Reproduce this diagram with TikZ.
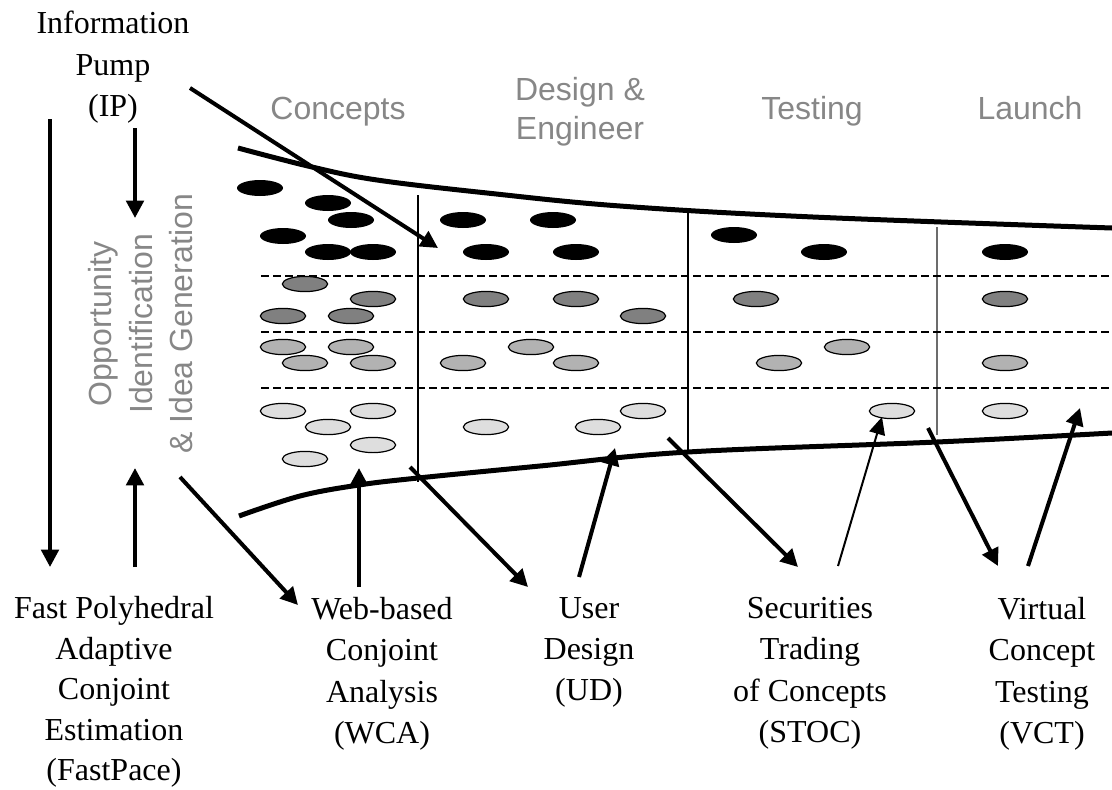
\documentclass[tikz,border=0pt]{standalone}
\usepackage{fontspec}
\setmainfont{Liberation Serif}
\setsansfont{Liberation Sans}
\usetikzlibrary{arrows.meta}
\definecolor{labelgray}{gray}{0.53}
\definecolor{beandark}{gray}{0.5}
\definecolor{beanmid}{gray}{0.7}
\definecolor{beanlight}{gray}{0.87}

\begin{document}
\begin{tikzpicture}[x=0.75pt,y=-0.75pt,
		arr/.style={-{Triangle[length=13pt,width=13pt]}, line width=3pt},
		thinarr/.style={-{Triangle[length=13pt,width=12pt]}, line width=1.5pt},
		method/.style={font=\fontsize{24}{31}\selectfont, align=center, anchor=north, inner sep=0pt},
		stage/.style={font=\sffamily\fontsize{24}{29.5}\selectfont, text=labelgray, align=center, inner sep=0pt},
		bean/.style={draw=black, line width=0.9pt}]
			\useasboundingbox (0,0) rectangle (1112,789);
			% funnel
			\draw[line width=3.75pt] plot[smooth, tension=0.6] coordinates {(238,148) (312,167) (377,180) (487,193) (620,206) (813,217) (1112,228)};
			\draw[line width=3.75pt] plot[smooth, tension=0.6] coordinates {(239,516) (300,496) (359,485) (418,478) (540,466) (688,452) (937,442) (1112,433)};
			\draw[line width=1pt] (418,195)--(418,482);
			\draw[line width=1pt] (688,212)--(688,452);
			\draw[line width=1.5pt, labelgray!80!black] (937,227)--(937,435);
			\foreach \y in {276,332,388}
				\draw[line width=1.3pt, dash pattern=on 6pt off 3pt] (261,\y)--(1112,\y);
			% concepts
			\foreach \p in {(260,188),(328,203),(351,220),(283,236),(328,252),(373,252),(463,220),(553,220),(486,252),(576,252),(734,235),(824,252),(1005,252)}
				\fill \p ellipse [x radius=17.25pt, y radius=6pt];
			\foreach \p in {(305,284),(373,299),(283,316),(351,316),(486,299),(576,299),(643,316),(756,299),(1005,299)}
				\draw[bean, fill=beandark] \p ellipse [x radius=17pt, y radius=5.7pt];
			\foreach \p in {(283,347),(351,347),(305,363),(373,363),(463,363),(531,347),(576,363),(847,347),(779,363),(1005,363)}
				\draw[bean, fill=beanmid] \p ellipse [x radius=17pt, y radius=5.7pt];
			\foreach \p in {(283,411),(373,411),(328,427),(373,445),(305,459),(486,427),(598,427),(643,411),(892,411),(1005,411)}
				\draw[bean, fill=beanlight] \p ellipse [x radius=17pt, y radius=5.7pt];
			% labels
			\node[stage, anchor=base] (concepts) at (338,119) {Concepts};
			\node[stage, anchor=north] (design) at (580,77) {Design \&\\Engineer};
			\node[stage, anchor=base] (testing) at (812,119) {Testing};
			\node[stage, anchor=base] (launch) at (1030,119) {Launch};
			\node[stage, anchor=north, rotate=90, font=\sffamily\fontsize{24}{30.5}\selectfont] (oppid) at (88,324) {Opportunity\\Identification\\\& Idea Generation};
			\node[method] (ip) at (113,11) {Information\\Pump\\(IP)};
			\node[method, font=\fontsize{24}{30.4}\selectfont] (fastpace) at (114,596) {Fast Polyhedral\\Adaptive\\Conjoint\\Estimation\\(FastPace)};
			\node[method] (wca) at (382,597) {Web-based\\Conjoint\\Analysis\\(WCA)};
			\node[method] (ud) at (589,597) {User\\Design\\(UD)};
			\node[method] (stoc) at (810,597) {Securities\\Trading\\of Concepts\\(STOC)};
			\node[method] (vct) at (1042,597) {Virtual\\Concept\\Testing\\(VCT)};
			% arrow ends
			\coordinate (fp-a) at (50,119);
			\coordinate (fp-b) at (50,567);
			\coordinate (ip-a) at (135,128);
			\coordinate (ip-b) at (135,218);
			\coordinate (fp-c) at (135,567);
			\coordinate (fp-d) at (135,468);
			\coordinate (ip-c) at (190,88);
			\coordinate (ip-d) at (438,248);
			\coordinate (wca-a) at (180,477);
			\coordinate (wca-b) at (298,605);
			\coordinate (wca-c) at (359,587);
			\coordinate (wca-d) at (359,468);
			\coordinate (ud-a) at (410,467);
			\coordinate (ud-b) at (528,587);
			\coordinate (ud-c) at (579,577);
			\coordinate (ud-d) at (615,448);
			\coordinate (stoc-a) at (668,438);
			\coordinate (stoc-b) at (798,567);
			\coordinate (stoc-c) at (838,566);
			\coordinate (stoc-d) at (882,417);
			\coordinate (vct-a) at (928,428);
			\coordinate (vct-b) at (998,566);
			\coordinate (vct-c) at (1028,566);
			\coordinate (vct-d) at (1080,408);
			\draw[arr] (fp-a)--(fp-b);
			\draw[arr] (ip-a)--(ip-b);
			\draw[arr] (fp-c)--(fp-d);
			\draw[arr] (ip-c)--(ip-d);
			\draw[arr] (wca-a)--(wca-b);
			\draw[arr] (wca-c)--(wca-d);
			\draw[arr] (ud-a)--(ud-b);
			\draw[arr] (ud-c)--(ud-d);
			\draw[arr] (stoc-a)--(stoc-b);
			\draw[thinarr] (stoc-c)--(stoc-d);
			\draw[arr] (vct-a)--(vct-b);
			\draw[arr] (vct-c)--(vct-d);
		\end{tikzpicture}
\end{document}
